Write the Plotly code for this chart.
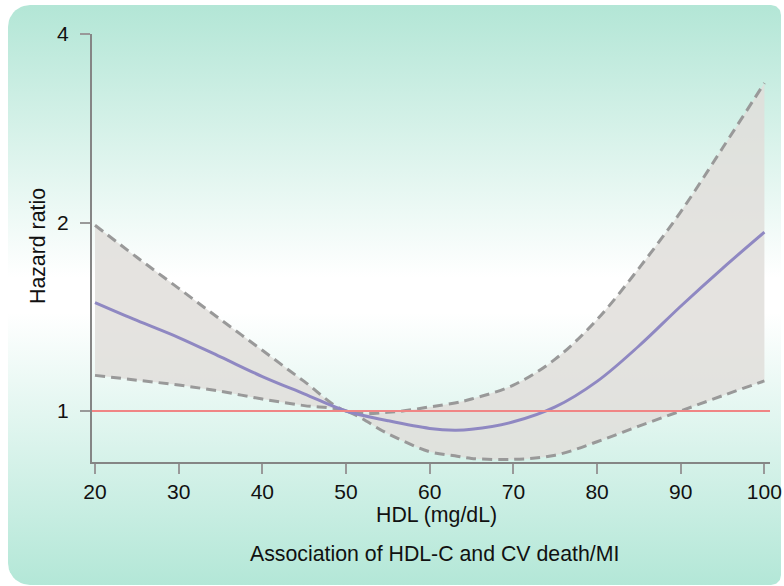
import numpy as np
import plotly.graph_objects as go

# ---- data ----
hdl = [20, 25, 30, 35, 40, 45, 50, 55, 60, 63, 65, 70, 75, 80, 85, 90, 95, 100]
hr_mean = [1.49, 1.395, 1.31, 1.22, 1.135, 1.065, 1.0, 0.965, 0.938, 0.932, 0.935,
           0.961, 1.015, 1.115, 1.27, 1.47, 1.69, 1.93]
hr_upper = [1.98, 1.76, 1.57, 1.40, 1.25, 1.115, 1.0, 0.995, 1.015, 1.03, 1.045,
            1.10, 1.21, 1.40, 1.69, 2.08, 2.63, 3.34]
hr_lower = [1.14, 1.12, 1.10, 1.075, 1.045, 1.02, 1.0, 0.92, 0.861, 0.848, 0.84,
            0.837, 0.85, 0.893, 0.946, 1.0, 1.058, 1.117]
x_ticks = [20, 30, 40, 50, 60, 70, 80, 90, 100]
y_ticks = [1, 2, 4]
reference_hr = 1

W, H = 784, 586
FONT = "Liberation Sans, Arial, sans-serif"

# ---- rounded background panel (pixel coordinates) ----
def rounded_rect(x0, y0, x1, y1, r_left, r_right, n=12):
    pts = []
    def arc(cx, cy, r, a0, a1):
        for t in np.linspace(a0, a1, n):
            pts.append((cx + r * np.cos(t), cy + r * np.sin(t)))
    arc(x0 + r_left, y0 + r_left, r_left, np.pi, 1.5 * np.pi)       # top-left
    arc(x1 - r_right, y0 + r_right, r_right, 1.5 * np.pi, 2 * np.pi)  # top-right
    arc(x1 - r_right, y1 - r_right, r_right, 0, 0.5 * np.pi)        # bottom-right
    arc(x0 + r_left, y1 - r_left, r_left, 0.5 * np.pi, np.pi)       # bottom-left
    pts.append(pts[0])
    return [p[0] for p in pts], [p[1] for p in pts]

bx, by = rounded_rect(8, 5, 781, 585, 22, 10)

fig = go.Figure()
fig.add_trace(go.Scatter(
    x=bx, y=by, xaxis="x", yaxis="y", mode="lines", line=dict(width=0),
    fill="toself",
    fillgradient=dict(type="vertical",
                      colorscale=[[0, "#b3e7d7"], [0.47, "#ffffff"],
                                  [0.53, "#ffffff"], [1, "#b3e6d6"]]),
    hoverinfo="skip", showlegend=False))

# ---- confidence band ----
fig.add_trace(go.Scatter(x=hdl, y=hr_upper, xaxis="x2", yaxis="y2", mode="lines",
                         line=dict(width=0, shape="spline"), hoverinfo="skip",
                         showlegend=False))
fig.add_trace(go.Scatter(x=hdl, y=hr_lower, xaxis="x2", yaxis="y2", mode="lines",
                         line=dict(width=0, shape="spline"), fill="tonexty",
                         fillcolor="rgba(225,222,219,0.85)", hoverinfo="skip",
                         showlegend=False))
for band in (hr_upper, hr_lower):
    fig.add_trace(go.Scatter(x=hdl, y=band, xaxis="x2", yaxis="y2", mode="lines",
                             line=dict(width=3, color="#999999", dash="10px,6px",
                                       shape="spline"),
                             showlegend=False))
fig.add_trace(go.Scatter(x=hdl, y=hr_mean, xaxis="x2", yaxis="y2", mode="lines",
                         line=dict(width=3, color="#8f88c2", shape="spline"),
                         showlegend=False))

# reference line at HR = 1
fig.add_shape(type="line", xref="x2 domain", yref="y2", x0=0, x1=1,
              y0=reference_hr, y1=reference_hr,
              line=dict(color="#f08585", width=2))

# ---- layout ----
L, R, T, B = 92, 770, 34, 462
axis_style = dict(showgrid=False, zeroline=False, showline=True, linecolor="#858585",
                  linewidth=2, ticks="outside", ticklen=10, tickwidth=1.5,
                  tickcolor="#999999", automargin=False,
                  tickfont=dict(family=FONT, size=21, color="#111111"))

label_font = dict(family=FONT, size=21.3, color="#111111")
fig.update_layout(
    width=W, height=H, margin=dict(l=0, r=0, t=0, b=0, pad=0),
    paper_bgcolor="white", plot_bgcolor="rgba(0,0,0,0)",
    xaxis=dict(domain=[0, 1], range=[0, W], visible=False, fixedrange=True),
    yaxis=dict(domain=[0, 1], range=[H, 0], visible=False, fixedrange=True),
    xaxis2=dict(domain=[L / W, R / W], anchor="y2", range=[19.64, 100.67],
                tickvals=x_ticks, **axis_style),
    yaxis2=dict(domain=[(H - B) / H, (H - T) / H], anchor="x2", type="log",
                range=[np.log10(0.829), np.log10(4)], tickvals=y_ticks,
                ticktext=[str(v) for v in y_ticks], ticklabelstandoff=7,
                **axis_style),
    showlegend=False,
    annotations=[
        dict(text="Hazard ratio", xref="paper", yref="paper", x=38 / W,
             y=1 - 246 / H, textangle=-90, showarrow=False,
             xanchor="center", yanchor="middle", font=label_font),
        dict(text="HDL (mg/dL)", xref="paper", yref="paper", x=436 / W,
             y=1 - 515 / H, showarrow=False,
             xanchor="center", yanchor="middle", font=label_font),
        dict(text="Association of HDL-C and CV death/MI", xref="paper",
             yref="paper", x=434 / W, y=1 - 554 / H, showarrow=False,
             xanchor="center", yanchor="middle", font=label_font),
    ],
)

fig.write_html("out.html",
               config={"displayModeBar": False},
               post_script="document.body.style.margin='0';"
                           "document.body.style.overflow='hidden';")
